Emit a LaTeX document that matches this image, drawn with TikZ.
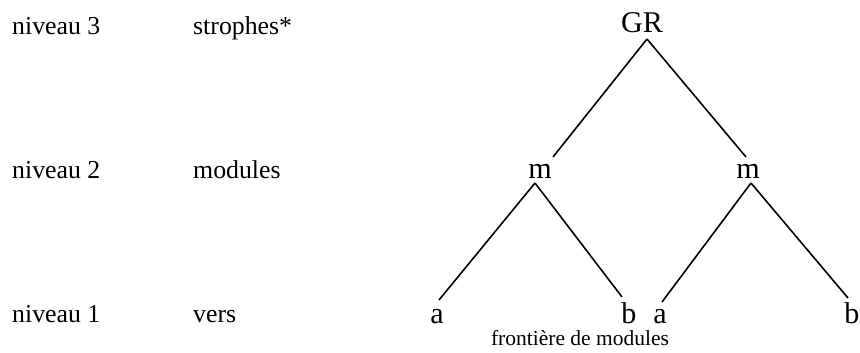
\documentclass[tikz,border=0pt]{standalone}
\usepackage{fontspec}
\setmainfont{Liberation Serif}
\usetikzlibrary{calc}
\begin{document}
\begin{tikzpicture}[x=1pt,y=-1pt,
  lbl/.style={anchor=base west,inner sep=0pt,font=\fontsize{25.8}{30}\selectfont},
  tr/.style={anchor=base,inner sep=0pt,font=\fontsize{30.1}{34}\selectfont},
  note/.style={anchor=base,inner sep=0pt,font=\fontsize{21.5}{25}\selectfont},
  edge/.style={line width=1.6pt}]
\useasboundingbox (0,0) rectangle (860,353);
% left labels
\node[lbl] (n3) at (12,35) {niveau 3};
\node[lbl] (s3) at (193,35) {strophes*};
\node[lbl] (n2) at (12,178) {niveau 2};
\node[lbl] (s2) at (193,178) {modules};
\node[lbl] (n1) at (12,322) {niveau 1};
\node[lbl] (s1) at (193,322) {vers};
% tree
\node[tr] (GR) at (642,33) {GR};
\node[tr] (m1) at (540,178) {m};
\node[tr] (m2) at (748,178) {m};
\node[tr] (a1) at (437,323) {a};
\node[tr] (b1) at (629,323) {b};
\node[tr] (a2) at (660,323) {a};
\node[tr] (b2) at (852,323) {b};
\node[note] (fr) at (580,345) {frontière de modules};
% edges
\draw[edge] ($(GR.base)+(5,6)$) -- ($(m1.base)+(13,-21)$);
\draw[edge] ($(GR.base)+(5,6)$) -- ($(m2.base)+(-2,-21)$);
\draw[edge] ($(m1.base)+(-5,5)$) -- ($(a1.base)+(2,-23)$);
\draw[edge] ($(m1.base)+(-5,5)$) -- ($(b1.base)+(-7,-26)$);
\draw[edge] ($(m2.base)+(3,5)$) -- ($(a2.base)+(2,-21)$);
\draw[edge] ($(m2.base)+(3,5)$) -- ($(b2.base)+(-4,-25)$);
\end{tikzpicture}
\end{document}
